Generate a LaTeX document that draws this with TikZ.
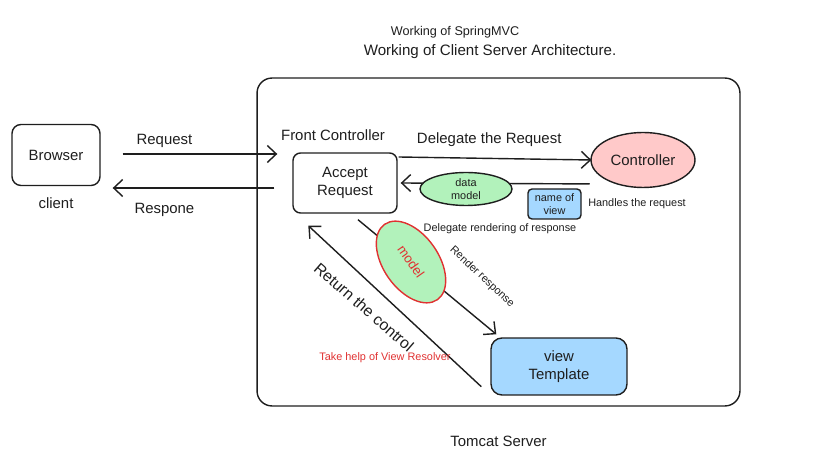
\documentclass[tikz,border=0pt]{standalone}
\usepackage{fontspec}
\setmainfont{Liberation Sans}
\usetikzlibrary{arrows.meta, shapes, positioning}

\definecolor{ctrlpink}{HTML}{FFC9C9}
\definecolor{modelgreen}{HTML}{B2F2BB}
\definecolor{viewblue}{HTML}{A5D8FF}
\definecolor{hintred}{HTML}{E03131}
\definecolor{inkgray}{HTML}{1E1E1E}

\begin{document}
\begin{tikzpicture}[x=0.02cm, y=-0.02cm, line width=0.8pt, >={Straight Barb[length=1.8mm, width=3.4mm]}]
\tikzstyle{txt}=[font=\fontsize{8.5}{10}\selectfont, text=inkgray]
\tikzstyle{small_txt}=[font=\fontsize{6.2}{7.4}\selectfont, text=inkgray]
\tikzstyle{round_box}=[rectangle, rounded corners=0.18cm, draw=inkgray, txt, align=center]
\tikzstyle{oval}=[ellipse, draw=inkgray, inner sep=0pt, align=center]
\tikzstyle{flow}=[->, draw=inkgray]
%
\useasboundingbox (0,0) rectangle (825,472);

\node [txt, font=\fontsize{7.2}{9}\selectfont] (title_mvc) at (455,32) {Working of SpringMVC};
\node [txt, font=\fontsize{8.6}{10}\selectfont] (title_cs) at (490,52) {Working of Client Server Architecture.};

\node [round_box, rounded corners=0.3cm, minimum width=9.66cm, minimum height=6.56cm] (tomcat) at (498.5,242) {};
\node [txt] [below=0.45cm of tomcat] (tomcat_lbl) {Tomcat Server};

\node [round_box, minimum width=1.76cm, minimum height=1.22cm, label={[txt, label distance=0.1cm]below:client}] (browser) at (56,155) {Browser};
\node [round_box, rounded corners=0.15cm, minimum width=2.08cm, minimum height=1.2cm, label={[txt, label distance=0.1cm, xshift=-0.24cm]above:Front Controller}] (accept) at (345,183) {Accept\\Request};
\node [oval, txt, fill=ctrlpink, minimum width=2.08cm, minimum height=1.1cm] (controller) at (643,160) {Controller};
\node [round_box, small_txt, rounded corners=0.08cm, fill=viewblue, inner sep=1pt, minimum width=1.06cm, minimum height=0.6cm] (view_name) at (554.5,204) {name of\\view};
\node [small_txt] [right=0cm of view_name] (handles_lbl) {Handles the request};
\node [small_txt] (render_note) at (500,229) {Delegate rendering of response};
\node [round_box, fill=viewblue, rounded corners=0.22cm, minimum width=2.72cm, minimum height=1.14cm] (view) at (559,366.5) {view\\Template};

% client <-> front controller
\draw [flow] ([shift={(22,-1)}]browser.east) -- node [txt, above, pos=0.27] {Request} ([shift={(-15,-29)}]accept.west);
\draw [flow] ([shift={(-18,5)}]accept.west) -- node [txt, below=0.17cm, pos=0.68] {Respone} ([shift={(12,33)}]browser.east);

% front controller <-> controller
\draw [flow] ([shift={(1,-26)}]accept.east) -- node [txt, above=0.1cm, pos=0.47] {Delegate the Request} ([shift={(1,0)}]controller.west);
\draw [flow] ([shift={(-16,4)}]controller.south west) -- ([shift={(3,0)}]accept.east);

% front controller <-> view
\draw [flow] ([shift={(13,6)}]accept.south) -- ([shift={(6,-3)}]view.north west);
\draw [flow] ([shift={(-9,-9)}]view.south west) -- ([shift={(16,12)}]accept.south west);

\node [oval, small_txt, fill=modelgreen, minimum width=1.84cm, minimum height=0.66cm] (data_model) at (466,189) {data\\model};
\node [oval, draw=hintred, fill=modelgreen, text=hintred, font=\fontsize{7.5}{9}\selectfont, minimum width=1.84cm, minimum height=1.1cm, rotate=-55] (model) at (411,262) {model};

\node [small_txt, rotate=-43] (render_lbl) at (482,277) {Render response};
\node [txt, font=\fontsize{9}{11}\selectfont, rotate=-41] (return_lbl) at (364,307) {Return the control};
\node [small_txt, text=hintred] (resolver_lbl) at (385,358) {Take help of View Resolver};

\end{tikzpicture}
\end{document}
